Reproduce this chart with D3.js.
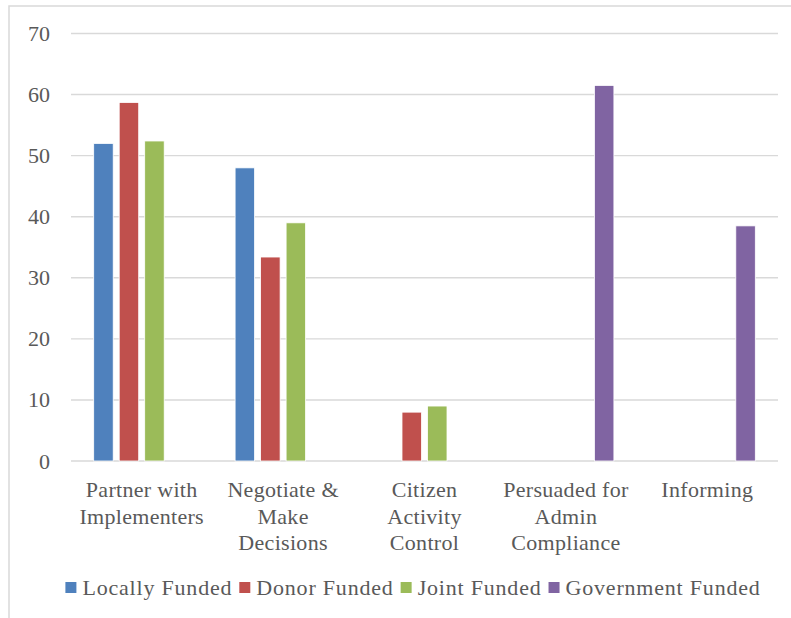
<!DOCTYPE html>
<html>
<head>
<meta charset="utf-8">
<script src="https://cdn.jsdelivr.net/npm/d3@7"></script>
<style>
  html, body { margin: 0; padding: 0; background: #fff; }
  svg { display: block; }
</style>
</head>
<body>
<svg id="chart" width="791" height="618"></svg>
<script>
// Engagement categories along the x axis
const categories = [
  "Partner with Implementers",
  "Negotiate & Make Decisions",
  "Citizen Activity Control",
  "Persuaded for Admin Compliance",
  "Informing"
];

// Funding types (series) and their colours
const seriesNames = ["Locally Funded", "Donor Funded", "Joint Funded", "Government Funded"];
const seriesColors = ["#4F81BD", "#C0504D", "#9BBB59", "#8064A2"];

// Values per series, one per category (null = no bar)
const locallyFunded    = [52,   48,   null, null, null];
const donorFunded      = [58.7, 33.4, 8,    null, null];
const jointFunded      = [52.4, 39,   9,    null, null];
const governmentFunded = [null, null, null, 61.5, 38.5];

const seriesValues = [locallyFunded, donorFunded, jointFunded, governmentFunded];

// Y axis ticks
const yTicks = [0, 10, 20, 30, 40, 50, 60, 70];

const FONT = '"Liberation Serif"';
const TEXT_COLOR = "#595959";

const svg = d3.select("#chart");
const W = 791, H = 618;

// Chart area border (runs past the right and bottom edges of the frame)
svg.append("rect")
  .attr("x", 9).attr("y", 6)
  .attr("width", W).attr("height", H)
  .attr("fill", "#fff")
  .attr("stroke", "#D9D9D9")
  .attr("stroke-width", 1.5);

const plot = { left: 71, right: 778, top: 33.5, bottom: 461 };

const y = d3.scaleLinear().domain([0, 70]).range([plot.bottom, plot.top]);
const x0 = d3.scaleBand().domain(categories).range([plot.left, plot.right]).paddingInner(0).paddingOuter(0);
const x1 = d3.scaleBand().domain(seriesNames).range([0, x0.bandwidth()]).paddingInner(0.235).paddingOuter(0.89);

// Gridlines
svg.append("g")
  .selectAll("line")
  .data(yTicks)
  .join("line")
  .attr("x1", plot.left).attr("x2", plot.right)
  .attr("y1", d => y(d)).attr("y2", d => y(d))
  .attr("stroke", "#D9D9D9")
  .attr("stroke-width", 1.4);

// Y axis labels
const yAxis = d3.axisLeft(y).tickValues(yTicks).tickSize(0).tickPadding(0);
svg.append("g")
  .attr("transform", `translate(${plot.left - 21},0)`)
  .call(yAxis)
  .call(g => g.attr("font-family", null).attr("font-size", null))
  .call(g => g.select(".domain").remove())
  .call(g => g.selectAll("text")
    .style("font-family", FONT)
    .style("font-size", "22px")
    .style("fill", TEXT_COLOR));

// Bars
const barData = [];
seriesNames.forEach((s, si) => {
  categories.forEach((c, ci) => {
    const v = seriesValues[si][ci];
    if (v != null) barData.push({ series: s, category: c, value: v, color: seriesColors[si] });
  });
});

svg.append("g")
  .selectAll("rect")
  .data(barData)
  .join("rect")
  .attr("x", d => x0(d.category) + x1(d.series))
  .attr("width", x1.bandwidth())
  .attr("y", d => y(d.value))
  .attr("height", d => y(0) - y(d.value))
  .attr("fill", d => d.color)
  .attr("stroke", "#fff")
  .attr("stroke-width", 0.8);

// Category labels with word wrapping
const wrapWidth = 136;
const lineHeight = 26.5;
const catG = svg.append("g");
categories.forEach(c => {
  const cx = x0(c) + x0.bandwidth() / 2;
  const t = catG.append("text")
    .attr("text-anchor", "middle")
    .style("font-family", FONT)
    .style("font-size", "22px")
    .style("letter-spacing", "0.3px")
    .style("fill", TEXT_COLOR)
    .attr("x", cx)
    .attr("y", 497);
  const words = c.split(" ");
  let line = [];
  let tspan = t.append("tspan").attr("x", cx).attr("dy", 0);
  words.forEach(w => {
    line.push(w);
    tspan.text(line.join(" "));
    if (tspan.node().getComputedTextLength() > wrapWidth && line.length > 1) {
      line.pop();
      tspan.text(line.join(" "));
      line = [w];
      tspan = t.append("tspan")
        .attr("x", cx)
        .attr("dy", lineHeight)
        .text(w);
    }
  });
});

// Legend
const legend = svg.append("g");
let lx = 0;
seriesNames.forEach((s, i) => {
  const g = legend.append("g").attr("transform", `translate(${lx},0)`);
  g.append("rect")
    .attr("x", 0).attr("y", -13)
    .attr("width", 11).attr("height", 11)
    .attr("fill", seriesColors[i]);
  const t = g.append("text")
    .attr("x", 17).attr("y", 0)
    .style("font-family", FONT)
    .style("font-size", "22px")
    .style("letter-spacing", "0.8px")
    .style("fill", TEXT_COLOR)
    .text(s);
  lx += 17 + t.node().getComputedTextLength() + 7;
});
const legendWidth = lx - 7;
legend.attr("transform", `translate(${413 - legendWidth / 2},595)`);
</script>
</body>
</html>
